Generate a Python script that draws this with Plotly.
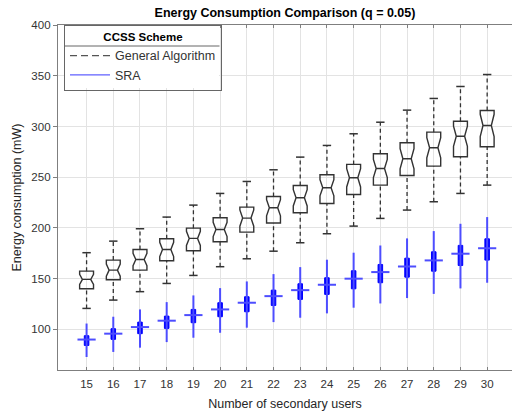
import plotly.graph_objects as go

users = list(range(15, 31))
tick_labels = [str(u) for u in users]

# General Algorithm (black notched boxes)
ga_q1 = [140, 149, 158.4, 167.7, 177.5, 186.4, 195.9, 204.8, 215, 224.1, 233, 242.2, 251.7, 260.9, 270.1, 280]
ga_med = [149.3, 158.4, 168.9, 178.8, 189.7, 198.5, 209.7, 219.9, 229.7, 239.6, 249.4, 258.6, 268.2, 279, 290.4, 301]
ga_q3 = [157.4, 168.3, 178.8, 189.3, 199.8, 210, 220.5, 231, 241.9, 252.4, 262.6, 273.1, 283.9, 294.4, 305.2, 315.8]
ga_lo = [120.7, 128.9, 137.2, 145.3, 153.2, 161.8, 169.6, 177.1, 185.4, 194.3, 201.8, 209.4, 217.6, 225.8, 234, 242.2]
ga_hi = [175.6, 187, 199.2, 210.7, 222.5, 234, 245.8, 257.3, 269.8, 281.3, 292.8, 304.2, 316.1, 327.6, 339.4, 351.2]
ga_notch = [5, 6, 6, 7, 7, 7, 8, 8, 8, 8, 9, 9, 10, 10, 10, 11]

# SRA (blue compact boxes)
sra_q1 = [84.2, 90.2, 95.8, 101, 106.6, 112.5, 117.4, 123.6, 129.6, 134.5, 140, 146, 151.5, 157.4, 163, 168.3]
sra_med = [90, 95.8, 102.3, 108.6, 114.1, 119.7, 126.3, 132.8, 138.7, 144, 150, 156.5, 162, 168, 174.6, 180]
sra_q3 = [93.8, 100.7, 107.2, 113.1, 119.7, 126.3, 132.2, 138.7, 145, 150.9, 157.8, 164, 170.2, 176.5, 182.8, 189.3]
sra_lo = [72.8, 77.8, 82, 87.5, 91.8, 96.7, 101.7, 107.2, 111.5, 115.8, 121.4, 125.6, 130.9, 135, 140.4, 146]
sra_hi = [105.8, 112.5, 119.7, 126.9, 133.5, 140.7, 147.3, 154.5, 161.4, 168.7, 175.6, 182.7, 189.7, 196.9, 204.1, 210.7]

DARK = '#333333'
BLUE = '#0000ff'
LBLUE = '#4d4dff'
FONT = 'Liberation Sans, Arial, sans-serif'

W, H = 512, 415
ML, MR, MT, MB = 58, 0, 25, 45
PW, PH = W - ML - MR, H - MT - MB


def px_x(p):
    return (p - ML) / PW


def px_y(p):
    return (H - MB - p) / PH


def segs(xs, a, b):
    X, Y = [], []
    for x, y0, y1 in zip(xs, a, b):
        X += [x, x, None]
        Y += [y0, y1, None]
    return X, Y


fig = go.Figure()

# black whiskers (dashed)
wx1, wy1 = segs(users, ga_q3, ga_hi)
wx2, wy2 = segs(users, ga_lo, ga_q1)
fig.add_trace(go.Scatter(x=wx1 + wx2, y=wy1 + wy2, mode='lines', showlegend=False,
                         line=dict(color=DARK, width=1.3, dash='4px,3px'), hoverinfo='skip'))
# caps
fig.add_trace(go.Scatter(x=users + users, y=ga_hi + ga_lo, mode='markers', showlegend=False,
                         marker=dict(symbol='line-ew', size=6, line=dict(color=DARK, width=1.5)),
                         hoverinfo='skip'))
# black notched boxes
fig.add_trace(go.Box(x=users, q1=ga_q1, median=ga_med, q3=ga_q3,
                     lowerfence=ga_q1, upperfence=ga_q3, notchspan=ga_notch,
                     notched=True, notchwidth=0.2, width=0.52, whiskerwidth=0,
                     line=dict(color=DARK, width=1.4), fillcolor='rgba(255,255,255,0)',
                     showlegend=False))

# blue whiskers
bx1, by1 = segs(users, sra_lo, sra_hi)
fig.add_trace(go.Scatter(x=bx1, y=by1, mode='lines', showlegend=False,
                         line=dict(color=LBLUE, width=2), hoverinfo='skip'))
# blue boxes
fig.add_trace(go.Box(x=users, q1=sra_q1, median=sra_med, q3=sra_q3,
                     lowerfence=sra_q1, upperfence=sra_q3, width=0.17, whiskerwidth=0,
                     line=dict(color=BLUE, width=1), fillcolor=BLUE, showlegend=False))
# blue medians
fig.add_trace(go.Scatter(x=users, y=sra_med, mode='markers', showlegend=False,
                         marker=dict(symbol='line-ew', size=13, line=dict(color=LBLUE, width=2)),
                         hoverinfo='skip'))

# legend entries
fig.add_trace(go.Scatter(x=[None], y=[None], mode='lines', name='General Algorithm',
                         line=dict(color='#555555', width=1.2, dash='7px,4px')))
fig.add_trace(go.Scatter(x=[None], y=[None], mode='lines', name='SRA',
                         line=dict(color='#6060ff', width=1.2)))

fig.update_layout(
    width=W, height=H,
    margin=dict(l=ML, r=MR, t=MT, b=MB),
    paper_bgcolor='white', plot_bgcolor='white',
    boxmode='overlay',
    font=dict(family=FONT, color='#262626', size=11),
    title=dict(text='<b>Energy Consumption Comparison (q = 0.05)</b>',
               x=0.5, xref='paper', xanchor='center',
               y=1 - 13 / H, yref='container', yanchor='middle',
               font=dict(size=12.5, color='#000000', family=FONT)),
    legend=dict(x=px_x(64), y=1, xanchor='left', yanchor='top',
                bgcolor='rgba(255,255,255,0)', bordercolor='#666666', borderwidth=1,
                font=dict(size=12.5, family=FONT, color='#333333'),
                title=dict(text='<b>CCSS Scheme</b>', side='top center',
                           font=dict(size=11.5, family=FONT, color='#000000')),
                tracegroupgap=0, itemwidth=40),
    xaxis=dict(range=[13.93, 30.93], tickmode='array', tickvals=users, ticktext=tick_labels,
               showgrid=True, gridcolor='#e3e3e3', gridwidth=1,
               showline=True, linecolor='#7f7f7f', linewidth=1.3, mirror='ticks',
               ticks='inside', ticklen=3, tickcolor='#7f7f7f', ticklabelstandoff=3,
               tickfont=dict(size=11.5, color='#333333'), zeroline=False,
               title=dict(text='Number of secondary users', font=dict(size=12.5, color='#262626'),
                          standoff=10)),
    yaxis=dict(range=[60, 400], tickmode='array', tickvals=[100, 150, 200, 250, 300, 350, 400],
               showgrid=True, gridcolor='#e3e3e3', gridwidth=1,
               showline=True, linecolor='#7f7f7f', linewidth=1.3, mirror=False,
               ticks='outside', ticklen=4, tickcolor='#7f7f7f',
               tickfont=dict(size=11.5, color='#333333'), zeroline=False,
               title=dict(text='Energy consumption (mW)', font=dict(size=12.5, color='#262626'),
                          standoff=6)),
    shapes=[
        dict(type='rect', xref='paper', yref='paper', layer='above',
             x0=px_x(64.5), x1=px_x(219), y0=px_y(88), y1=px_y(25.5),
             fillcolor='white', line=dict(width=0)),
        dict(type='line', xref='paper', yref='paper', layer='above',
             x0=px_x(64), x1=px_x(219.5), y0=px_y(46), y1=px_y(46),
             line=dict(color='#666666', width=1)),
    ],
)

fig.write_html('out.html')
